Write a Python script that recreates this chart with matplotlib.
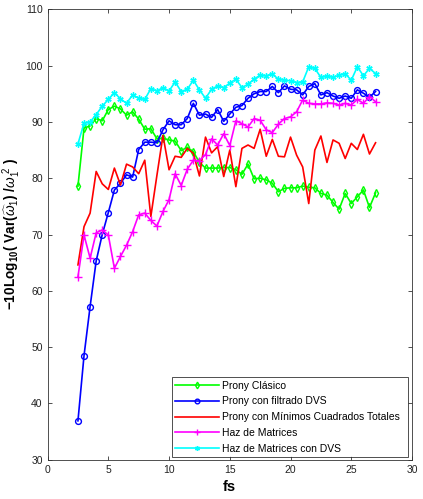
import matplotlib
matplotlib.use("Agg")
import matplotlib.pyplot as plt

plt.rcParams["font.family"] = ["Liberation Sans", "DejaVu Sans"]
plt.rcParams["mathtext.fontset"] = "custom"
plt.rcParams["mathtext.rm"] = "Liberation Sans"
plt.rcParams["mathtext.it"] = "Liberation Sans:italic"
plt.rcParams["mathtext.bf"] = "Liberation Sans:bold"

fs = [2.5, 3.0, 3.5, 4.0, 4.5, 5.0, 5.5, 6.0, 6.5, 7.0,
      7.5, 8.0, 8.5, 9.0, 9.5, 10.0, 10.5, 11.0, 11.5, 12.0,
      12.5, 13.0, 13.5, 14.0, 14.5, 15.0, 15.5, 16.0, 16.5, 17.0,
      17.5, 18.0, 18.5, 19.0, 19.5, 20.0, 20.5, 21.0, 21.5, 22.0,
      22.5, 23.0, 23.5, 24.0, 24.5, 25.0, 25.5, 26.0, 26.5, 27.0]

prony_clasico = [78.6, 88.9, 89.3, 90.6, 90.2, 92.2, 92.8, 92.3, 91.2, 91.8,
                 90.5, 88.7, 88.8, 87.0, 87.1, 86.8, 86.6, 84.9, 85.5, 84.7,
                 82.8, 81.8, 81.8, 81.8, 81.9, 81.9, 81.5, 80.7, 82.5, 79.9,
                 80.0, 79.7, 79.1, 77.6, 78.2, 78.3, 78.3, 78.6, 78.4, 78.3,
                 77.3, 77.0, 75.7, 74.5, 77.3, 75.5, 76.7, 77.9, 74.8, 77.4]

prony_dvs = [36.9, 48.5, 57.2, 65.3, 70.0, 73.9, 77.9, 79.1, 80.6, 80.2,
             85.1, 86.4, 86.4, 86.3, 88.6, 90.2, 89.5, 89.5, 90.6, 93.3,
             91.2, 91.4, 90.8, 92.2, 90.1, 91.4, 92.6, 92.9, 94.2, 95.0,
             95.4, 95.4, 96.3, 95.2, 96.4, 95.8, 95.7, 94.8, 96.3, 96.8,
             94.8, 95.2, 94.6, 94.2, 94.6, 94.2, 95.7, 95.1, 94.4, 95.4]

prony_mct = [64.6, 71.4, 73.8, 81.2, 79.0, 78.0, 81.8, 78.8, 82.5, 82.0,
             80.8, 83.2, 73.2, 80.5, 87.6, 81.5, 83.9, 83.7, 85.3, 84.4,
             80.4, 87.3, 84.5, 85.6, 80.3, 85.0, 78.5, 85.3, 85.9, 85.3,
             88.7, 83.9, 86.9, 83.9, 83.8, 87.3, 84.1, 82.0, 75.5, 85.0,
             87.5, 82.8, 86.8, 86.2, 83.5, 86.2, 85.1, 87.8, 84.3, 86.3]

haz_matrices = [62.5, 69.9, 65.8, 70.3, 70.8, 69.9, 64.0, 66.1, 68.1, 70.5,
                73.5, 73.8, 72.5, 71.5, 74.1, 76.2, 80.8, 78.7, 81.6, 83.2,
                83.1, 84.2, 87.0, 85.9, 87.9, 85.8, 90.2, 89.7, 89.1, 90.6,
                90.3, 88.6, 88.1, 89.6, 90.6, 90.9, 91.8, 93.9, 93.3, 93.2,
                93.2, 93.4, 93.3, 93.0, 93.3, 93.0, 94.0, 93.3, 94.5, 93.6]

haz_matrices_dvs = [86.1, 89.8, 90.0, 91.3, 92.8, 94.0, 95.2, 94.1, 93.3, 94.8,
                    94.2, 94.0, 95.9, 95.5, 96.1, 95.5, 97.1, 95.4, 95.8, 97.4,
                    95.7, 94.2, 95.8, 96.4, 96.1, 96.9, 97.6, 96.1, 96.7, 97.6,
                    98.3, 98.2, 98.5, 97.6, 97.4, 97.3, 97.0, 97.1, 99.8, 99.5,
                    97.9, 98.2, 97.9, 98.3, 98.6, 97.4, 99.8, 98.2, 99.5, 98.6]

labels = ["Prony Clásico", "Prony con filtrado DVS",
          "Prony con Mínimos Cuadrados Totales", "Haz de Matrices",
          "Haz de Matrices con DVS"]

fig = plt.figure(figsize=(4.23, 4.99), dpi=100)
ax = fig.add_axes([0.1125, 0.0788, 0.8615, 0.9025])

lw = 1.2
ax.plot(fs, prony_clasico, color=(0, 1, 0), lw=lw, marker="d", ms=4.2,
        mfc="none", mew=1.0, label=labels[0])
ax.plot(fs, prony_dvs, color=(0, 0, 1), lw=lw, marker="o", ms=4.2,
        mfc="none", mew=1.0, label=labels[1])
ax.plot(fs, prony_mct, color=(1, 0, 0), lw=lw, label=labels[2])
ax.plot(fs, haz_matrices, color=(1, 0, 1), lw=lw, marker="+", ms=5.5,
        mew=1.0, label=labels[3])
ax.plot(fs, haz_matrices_dvs, color=(0, 1, 1), lw=lw, marker=(6, 2, 0),
        ms=4.5, mew=1.0, label=labels[4])

ax.set_xlim(0, 30)
ax.set_ylim(30, 110)
ax.set_xticks(range(0, 31, 5))
ax.set_yticks(range(30, 111, 10))
ax.tick_params(direction="in", top=True, right=True, labelsize=7.5,
               length=3, width=0.6, colors="#333333", labelcolor="#222222")
for s in ax.spines.values():
    s.set_linewidth(0.6)
    s.set_color("#333333")

ax.set_xlabel("fs", fontsize=10.5, fontweight="bold", labelpad=4)
ax.set_ylabel(r"$\mathbf{-10Log_{10}(\ Var(}\widehat{\omega}_1\mathbf{)\ /}\omega_1^{\ 2}\mathbf{\ )}$",
              fontsize=9.8, labelpad=2)

leg = ax.legend(loc="lower left", bbox_to_anchor=(0.3406, 0.0053, 0.6474, 0.183),
                mode="expand", fontsize=7.5, frameon=True, fancybox=False,
                borderaxespad=0, handlelength=4.2, labelspacing=0.55,
                handletextpad=0.3, borderpad=0.35, markerscale=0.8)
leg.get_frame().set_edgecolor("black")
leg.get_frame().set_linewidth(0.6)

fig.savefig("out.png", dpi=100)
